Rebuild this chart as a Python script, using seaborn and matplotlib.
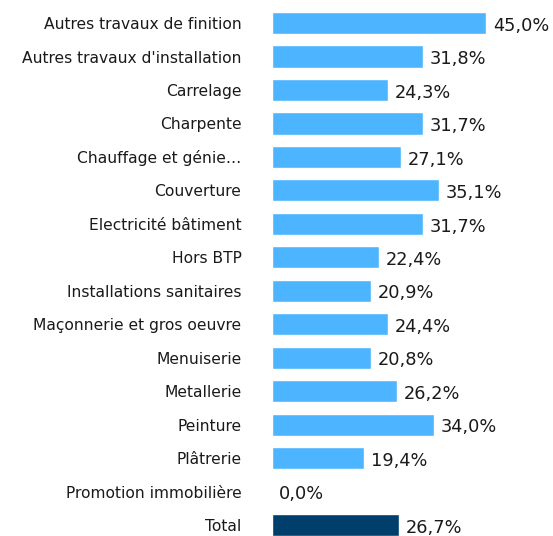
import matplotlib
matplotlib.use("Agg")
import matplotlib.pyplot as plt
import seaborn as sns
import pandas as pd

categories = [
    "Autres travaux de finition",
    "Autres travaux d'installation",
    "Carrelage",
    "Charpente",
    "Chauffage et génie…",
    "Couverture",
    "Electricité bâtiment",
    "Hors BTP",
    "Installations sanitaires",
    "Maçonnerie et gros oeuvre",
    "Menuiserie",
    "Metallerie",
    "Peinture",
    "Plâtrerie",
    "Promotion immobilière",
    "Total",
]
values = [45.0, 31.8, 24.3, 31.7, 27.1, 35.1, 31.7, 22.4,
          20.9, 24.4, 20.8, 26.2, 34.0, 19.4, 0.0, 26.7]

light_blue = "#4DB5FF"
navy = "#003F6B"

df = pd.DataFrame({"cat": categories, "val": values})
palette = {c: (navy if c == "Total" else light_blue) for c in categories}

sns.set_theme(style="white")
plt.rcParams["font.family"] = ["DejaVu Sans"]

fig = plt.figure(figsize=(5.53, 5.36), dpi=100)
ax = fig.add_axes([272 / 553, -0.0108, 281 / 553, 0.999])

sns.barplot(data=df, x="val", y="cat", hue="cat", palette=palette,
            legend=False, width=0.66, saturation=1, ax=ax)

ax.set_xlim(0, 281 / 4.76)
ax.set_ylim(15.5, -0.5)
ax.set_xlabel("")
ax.set_ylabel("")
ax.set_xticks([])
for s in ax.spines.values():
    s.set_visible(False)
ax.tick_params(axis="y", length=0, pad=22, labelsize=11.2, labelcolor="#1a1a1a")

for i, v in enumerate(values):
    ax.text(v + 1.4, i + 0.08, f"{v:.1f}%".replace(".", ","),
            va="center", ha="left", fontsize=12.8, color="#1a1a1a")

fig.savefig("out.png", dpi=100)
